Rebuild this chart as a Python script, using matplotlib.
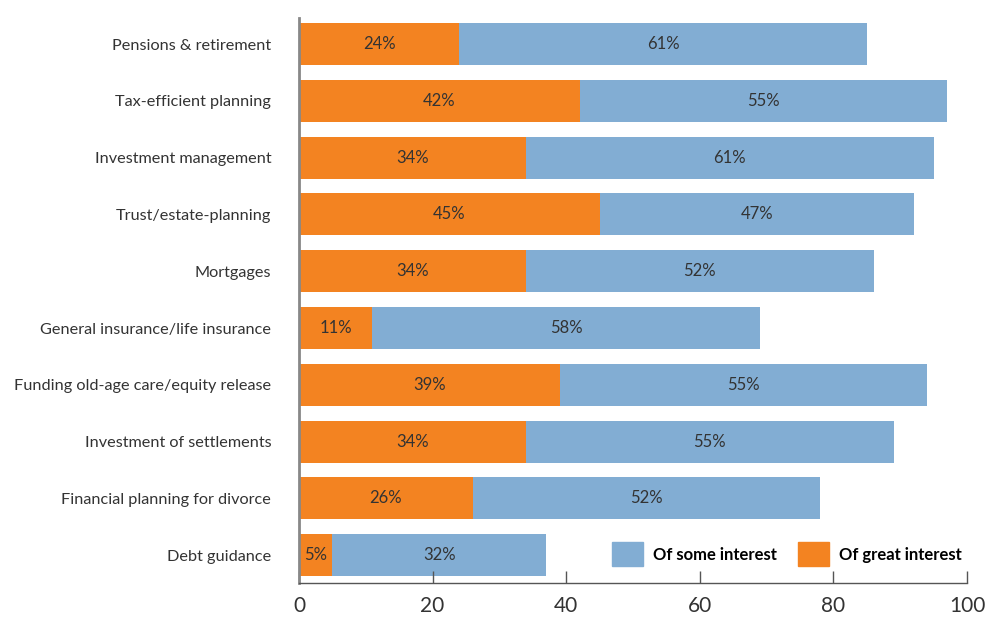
import matplotlib.pyplot as plt
from matplotlib.patches import Patch

plt.rcParams['font.family'] = ['Lato', 'DejaVu Sans']

categories = [
    "Pensions & retirement",
    "Tax-efficient planning",
    "Investment management",
    "Trust/estate-planning",
    "Mortgages",
    "General insurance/life insurance",
    "Funding old-age care/equity release",
    "Investment of settlements",
    "Financial planning for divorce",
    "Debt guidance",
]
great_interest = [24, 42, 34, 45, 34, 11, 39, 34, 26, 5]
some_interest = [61, 55, 61, 47, 52, 58, 55, 55, 52, 32]

orange = "#F38321"
blue = "#82ADD3"
text_color = "#333333"

fig = plt.figure(figsize=(10.02, 6.19), dpi=100)
ax = fig.add_axes([0.2984, 0.058, 0.6667, 0.913])

y = list(range(len(categories)))
ax.barh(y, great_interest, height=0.74, color=orange)
ax.barh(y, some_interest, left=great_interest, height=0.74, color=blue)

# percentage labels centred in each segment
for i in y:
    g = great_interest[i]
    s = some_interest[i]
    ax.text(g / 2, i, f"{g}%", ha="center", va="center", fontsize=12, color=text_color)
    ax.text(g + s / 2, i, f"{s}%", ha="center", va="center", fontsize=12, color=text_color)

ax.set_xlim(0, 100)
ax.set_ylim(9.49, -0.46)
ax.set_yticks(y)
ax.set_yticklabels(categories, fontsize=11.7, color=text_color)
ax.tick_params(axis="y", length=0, pad=20)
ax.set_xticks(range(0, 101, 20))
ax.tick_params(axis="x", direction="in", length=9, width=1, color="#555555",
               labelsize=15, labelcolor=text_color, pad=9)

for side in ["top", "right"]:
    ax.spines[side].set_visible(False)
ax.spines["left"].set_color("#888888")
ax.spines["left"].set_linewidth(2)
ax.spines["bottom"].set_color("#555555")
ax.spines["bottom"].set_linewidth(1)

handles = [Patch(color=blue, label="Of some interest"),
           Patch(color=orange, label="Of great interest")]
ax.legend(handles=handles, loc="center right", bbox_to_anchor=(0.9925, 0.051),
          ncol=2, frameon=False, borderpad=0, borderaxespad=0,
          handlelength=1.85, handleheight=1.85,
          handletextpad=0.6, columnspacing=1.3,
          prop={"weight": "bold", "size": 12})

fig.savefig("out.png", dpi=100)
